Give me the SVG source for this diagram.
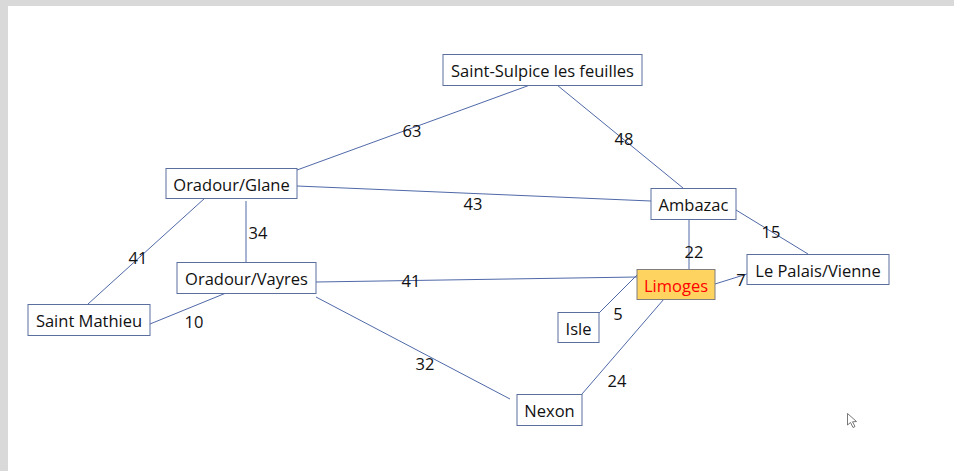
<svg xmlns="http://www.w3.org/2000/svg" width="954" height="471" viewBox="0 0 954 471">
<style>
.box{fill:#ffffff;stroke:#5a6f9e;stroke-width:1}
.lim{fill:#ffd35f;stroke:#7f7f7f;stroke-width:1}
.lbl{font-family:"Open Sans","Liberation Sans",sans-serif;font-size:16.5px;fill:#111111;text-anchor:middle;dominant-baseline:central}
.num{font-family:"Open Sans","Liberation Sans",sans-serif;font-size:16.5px;fill:#111111;text-anchor:middle;dominant-baseline:central}
#edges line{stroke:#4f68a8;stroke-width:1}
</style>
<rect x="0" y="0" width="954" height="471" fill="#ffffff"/>
<rect x="0" y="0" width="954" height="6" fill="#d9d9d9"/>
<rect x="0" y="0" width="8" height="471" fill="#d9d9d9"/>
<g id="edges">
<line x1="530" y1="85" x2="297" y2="170"/>
<line x1="557" y1="85" x2="683" y2="188"/>
<line x1="297" y1="186" x2="651" y2="201"/>
<line x1="246" y1="201" x2="246" y2="262"/>
<line x1="205" y1="198" x2="88" y2="304"/>
<line x1="226" y1="293" x2="150" y2="324"/>
<line x1="316" y1="282" x2="637" y2="277"/>
<line x1="316" y1="297" x2="510" y2="399"/>
<line x1="689" y1="219" x2="689" y2="269"/>
<line x1="736" y1="210" x2="808" y2="254"/>
<line x1="715" y1="284" x2="747" y2="274"/>
<line x1="637" y1="275" x2="599" y2="313"/>
<line x1="664" y1="299" x2="582" y2="394"/>
<text class="num" x="412" y="130">63</text>
<text class="num" x="624" y="138">48</text>
<text class="num" x="473" y="203">43</text>
<text class="num" x="258" y="232">34</text>
<text class="num" x="138" y="257">41</text>
<text class="num" x="194" y="321">10</text>
<text class="num" x="411" y="280">41</text>
<text class="num" x="425" y="363">32</text>
<text class="num" x="694" y="251">22</text>
<text class="num" x="771" y="231">15</text>
<text class="num" x="741" y="279">7</text>
<text class="num" x="618" y="313">5</text>
<text class="num" x="617" y="380">24</text>
</g>
<g id="saint-sulpice"><rect class="box" x="443" y="54.5" width="199" height="31"/><text class="lbl" x="542.5" y="70">Saint-Sulpice les feuilles</text></g>
<g id="oradour-glane"><rect class="box" x="166" y="168.5" width="131" height="30"/><text class="lbl" x="231.5" y="184">Oradour/Glane</text></g>
<g id="oradour-vayres"><rect class="box" x="177" y="262.5" width="139" height="31"/><text class="lbl" x="246.5" y="278">Oradour/Vayres</text></g>
<g id="saint-mathieu"><rect class="box" x="28" y="304.5" width="122" height="31"/><text class="lbl" x="89" y="320">Saint Mathieu</text></g>
<g id="ambazac"><rect class="box" x="651" y="188.5" width="85" height="31"/><text class="lbl" x="693.5" y="204">Ambazac</text></g>
<g id="limoges"><rect class="lim" x="637" y="269.5" width="78" height="30"/><text class="lbl" x="676" y="285" style="fill:#ff0000">Limoges</text></g>
<g id="le-palais"><rect class="box" x="747" y="254.5" width="142" height="30"/><text class="lbl" x="818" y="270">Le Palais/Vienne</text></g>
<g id="isle"><rect class="box" x="558" y="312.5" width="41" height="30"/><text class="lbl" x="578.5" y="328">Isle</text></g>
<g id="nexon"><rect class="box" x="517" y="394.5" width="65" height="31"/><text class="lbl" x="549.5" y="410">Nexon</text></g>
<path d="M847.5 413.5 L847.5 425 L850.5 422.5 L853 427.5 L855 426.5 L852.5 421.8 L856.5 421.5 Z" fill="#ffffff" stroke="#555555" stroke-width="0.8"/>
</svg>
